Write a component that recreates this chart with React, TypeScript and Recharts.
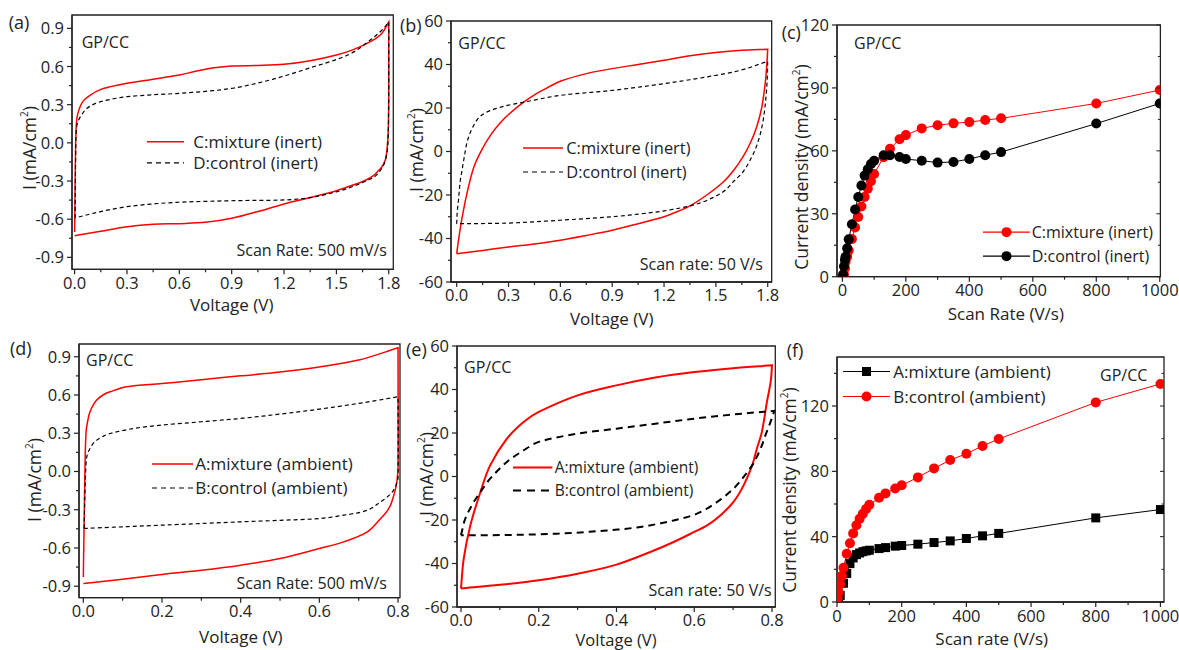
import React from "react"
import { LineChart, Line, XAxis, YAxis, ReferenceArea, Legend } from "recharts"

// Six-panel CV / scan-rate figure (GP/CC electrodes)

type Pt = [number, number]

const FONT = "'Open Sans', sans-serif"
const INK = "#222"
const RED = "#ff0000"
const BLACK = "#000000"

// ---- (a) inert, 500 mV/s  [voltage, current]  (a repeated point marks a sharp corner)
const aMixture: Pt[] = [
  [0.0, -0.70], [0.003, -0.3], [0.006, 0.0], [0.01, 0.15], [0.015, 0.21], [0.03, 0.28], [0.05, 0.33],
  [0.09, 0.376], [0.15, 0.42], [0.2, 0.44], [0.3, 0.468], [0.45, 0.5], [0.6, 0.533], [0.7, 0.565],
  [0.8, 0.59], [0.9, 0.604], [1.05, 0.608], [1.2, 0.617], [1.35, 0.645], [1.5, 0.69], [1.6, 0.735],
  [1.7, 0.8], [1.76, 0.86], [1.8, 0.95], [1.8, 0.95],
  [1.8, 0.4], [1.797, 0.1], [1.79, -0.05], [1.78, -0.135], [1.76, -0.19], [1.74, -0.22], [1.71, -0.26],
  [1.67, -0.292], [1.6, -0.33], [1.5, -0.376], [1.35, -0.43], [1.2, -0.48], [1.05, -0.54], [0.9, -0.593],
  [0.75, -0.625], [0.6, -0.635], [0.45, -0.64], [0.3, -0.66], [0.15, -0.695], [0.0, -0.73],
]
const aControl: Pt[] = [
  [0.003, -0.59], [0.005, -0.2], [0.008, 0.05], [0.012, 0.13], [0.02, 0.17], [0.04, 0.22], [0.07, 0.27],
  [0.12, 0.31], [0.2, 0.34], [0.3, 0.363], [0.45, 0.378], [0.6, 0.389], [0.75, 0.405], [0.9, 0.428],
  [1.05, 0.47], [1.2, 0.525], [1.35, 0.59], [1.5, 0.655], [1.6, 0.715], [1.7, 0.815], [1.76, 0.885],
  [1.8, 0.95], [1.8, 0.95],
  [1.8, 0.4], [1.797, 0.05], [1.79, -0.08], [1.775, -0.16], [1.75, -0.22], [1.72, -0.265], [1.67, -0.3],
  [1.6, -0.34], [1.5, -0.385], [1.35, -0.43], [1.2, -0.449], [1.05, -0.452], [0.9, -0.455], [0.75, -0.46],
  [0.6, -0.467], [0.45, -0.48], [0.3, -0.502], [0.15, -0.54], [0.003, -0.59],
]

// ---- (b) inert, 50 V/s
const bMixture: Pt[] = [
  [0.0, -47], [0.01, -41], [0.03, -31], [0.06, -19], [0.1, -7], [0.15, 1.5], [0.2, 8], [0.25, 13],
  [0.3, 17], [0.376, 22], [0.45, 26], [0.5, 28.3], [0.6, 32.3], [0.75, 35.8], [0.9, 38.1], [1.05, 40],
  [1.2, 42], [1.35, 44], [1.5, 45.5], [1.65, 46.5], [1.8, 47], [1.8, 47],
  [1.795, 40], [1.785, 31], [1.765, 20], [1.736, 11.3], [1.7, 4], [1.66, -2], [1.6, -9], [1.543, -14],
  [1.447, -20], [1.35, -25], [1.25, -28.5], [1.2, -30], [1.05, -33.2], [0.9, -36.2], [0.75, -38.6],
  [0.6, -40.8], [0.45, -42.5], [0.3, -43.9], [0.15, -45.5], [0.0, -47],
]
const bControl: Pt[] = [
  [0.0, -33.2], [0.003, -28], [0.01, -22.5], [0.02, -14], [0.03, -9], [0.045, -2], [0.058, 3.6], [0.08, 9],
  [0.116, 14.3], [0.15, 17], [0.2, 19], [0.3, 21.3], [0.376, 22.5], [0.6, 25.8], [0.9, 28.1], [1.2, 31.2],
  [1.5, 35], [1.65, 37.5], [1.8, 41.5], [1.8, 41.5],
  [1.797, 33], [1.79, 25], [1.775, 15], [1.75, 6], [1.717, -1], [1.66, -9], [1.6, -14], [1.543, -18.5],
  [1.447, -22.5], [1.35, -25], [1.2, -27.3], [1.05, -28.8], [0.9, -30], [0.6, -31.6], [0.3, -32.9], [0.0, -33.2],
]

// ---- (c) inert, current density vs scan rate  [V/s, mA/cm2]
const cMixture: Pt[] = [
  [5, 1], [8, 4], [10, 7], [15, 9.5], [20, 12.5], [30, 18], [40, 23.5], [50, 28.5], [60, 33.5], [70, 38],
  [80, 42], [90, 45.5], [100, 49], [130, 57], [150, 61], [180, 65.5], [200, 67.5], [250, 70.7], [300, 72.2],
  [350, 73.1], [400, 73.7], [450, 74.7], [500, 75.5], [800, 82.6], [1000, 89],
]
const cControl: Pt[] = [
  [2, 1], [5, 5], [8, 8], [10, 9.5], [15, 13.5], [20, 17.8], [30, 25], [40, 32], [50, 38], [60, 43.5],
  [70, 48.2], [80, 51.2], [90, 53.7], [100, 55.3], [130, 57.9], [150, 57.9], [180, 57.1], [200, 56.1],
  [250, 55.3], [300, 54.4], [350, 54.7], [400, 56.1], [450, 57.9], [500, 59.4], [800, 73], [1000, 82.6],
]

// ---- (d) ambient, 500 mV/s
const dMixture: Pt[] = [
  [0.0, -0.827], [0.002, -0.4], [0.004, 0.0], [0.007, 0.31], [0.012, 0.41], [0.017, 0.468], [0.025, 0.52],
  [0.034, 0.56], [0.05, 0.6], [0.068, 0.625], [0.11, 0.665], [0.2, 0.69], [0.3, 0.72], [0.4, 0.75],
  [0.5, 0.78], [0.6, 0.82], [0.7, 0.874], [0.8, 0.97], [0.8, 0.97],
  [0.8, 0.024], [0.797, -0.08], [0.794, -0.133], [0.788, -0.2], [0.781, -0.264], [0.77, -0.32],
  [0.756, -0.369], [0.722, -0.474], [0.662, -0.552], [0.6, -0.604], [0.5, -0.683], [0.4, -0.735],
  [0.3, -0.775], [0.2, -0.808], [0.1, -0.845], [0.0, -0.879],
]
const dControl: Pt[] = [
  [0.002, -0.447], [0.004, -0.2], [0.006, 0.0], [0.008, 0.1], [0.012, 0.15], [0.017, 0.18], [0.025, 0.22],
  [0.034, 0.246], [0.05, 0.275], [0.068, 0.298], [0.127, 0.337], [0.2, 0.364], [0.3, 0.39], [0.4, 0.416],
  [0.5, 0.45], [0.6, 0.489], [0.7, 0.534], [0.8, 0.586], [0.8, 0.586],
  [0.8, -0.05], [0.797, -0.09], [0.79, -0.14], [0.78, -0.18], [0.756, -0.238], [0.722, -0.304],
  [0.662, -0.343], [0.6, -0.369], [0.5, -0.383], [0.4, -0.395], [0.3, -0.408], [0.2, -0.421], [0.1, -0.434],
  [0.002, -0.447],
]

// ---- (e) ambient, 50 V/s
const eMixture: Pt[] = [
  [0.0, -51.5], [0.007, -37.8], [0.024, -22.5], [0.05, -7.1], [0.075, 5.1], [0.118, 17.4], [0.161, 25.1],
  [0.2, 29.7], [0.3, 37.3], [0.4, 41.9], [0.5, 45.5], [0.6, 48], [0.7, 49.8], [0.8, 51.1], [0.8, 51.1],
  [0.797, 44], [0.787, 34.3], [0.774, 20.5], [0.761, 12.8], [0.749, 5.1], [0.727, -4.1], [0.701, -11.7],
  [0.667, -17.9], [0.633, -22.5], [0.6, -25.5], [0.547, -30.1], [0.487, -34.7], [0.4, -40.5], [0.3, -44.7],
  [0.2, -47.7], [0.1, -49.8], [0.0, -51.5],
]
const eControl: Pt[] = [
  [0.0, -27], [0.011, -19.4], [0.033, -11.7], [0.05, -7.1], [0.075, -1], [0.118, 6.7], [0.161, 12],
  [0.2, 15.9], [0.3, 19.7], [0.4, 22], [0.5, 24.3], [0.6, 26.6], [0.7, 28.5], [0.806, 30.2], [0.806, 30.2],
  [0.796, 25], [0.783, 18.9], [0.774, 14.3], [0.761, 9], [0.749, 5.1], [0.727, -0.2], [0.701, -5.6],
  [0.659, -11.7], [0.607, -17.1], [0.547, -20.2], [0.461, -23.2], [0.376, -24.8], [0.247, -26.3],
  [0.075, -27], [0.0, -27],
]

// ---- (f) ambient, current density vs scan rate
const fMixture: Pt[] = [
  [5, 0.5], [10, 4], [20, 11.5], [30, 17.5], [40, 23.5], [50, 27], [60, 29], [70, 30], [80, 30.8],
  [90, 31.3], [100, 31.7], [130, 32.7], [150, 33.3], [180, 34.2], [200, 34.6], [250, 35.4], [300, 36.4],
  [350, 37.4], [400, 38.9], [450, 40.5], [500, 42], [800, 51.5], [1000, 56.6],
]
const fControl: Pt[] = [
  [2, 2], [5, 6], [10, 11], [15, 16], [20, 21], [30, 29.5], [40, 36], [50, 42], [60, 47], [70, 51],
  [80, 54], [90, 57], [100, 59.5], [130, 63.8], [150, 66.5], [180, 69.5], [200, 71.5], [250, 76.3],
  [300, 81.8], [350, 86.9], [400, 90.8], [450, 95.5], [500, 99.8], [800, 122.2], [1000, 133.5],
]

// ---- tick values
const vTicks18 = [0, 0.3, 0.6, 0.9, 1.2, 1.5, 1.8]
const vMinor18 = [0.15, 0.45, 0.75, 1.05, 1.35, 1.65]
const vTicks08 = [0, 0.2, 0.4, 0.6, 0.8]
const vMinor08 = [0.1, 0.3, 0.5, 0.7]
const iTicksSmall = [-0.9, -0.6, -0.3, 0, 0.3, 0.6, 0.9]
const iMinorSmall = [-0.75, -0.45, -0.15, 0.15, 0.45, 0.75]
const iTicksBig = [-60, -40, -20, 0, 20, 40, 60]
const iMinorBig = [-50, -30, -10, 10, 30, 50]
const rateTicks = [0, 200, 400, 600, 800, 1000]
const rateMinor = [100, 300, 500, 700, 900]
const jTicksInert = [0, 30, 60, 90, 120]
const jMinorInert = [15, 45, 75, 105]
const jTicksAmb = [0, 40, 80, 120]
const jMinorAmb = [20, 60, 100, 140]

const fmt1 = (v: number) => v.toFixed(1)
const fmt0 = (v: number) => String(Math.round(v))

interface Series {
  name: string
  pts: Pt[]
  color: string
  width: number
  dash?: string
  legendDash?: string
  marker?: "circle" | "square"
}

interface Panel {
  tag: string
  box: { l: number; t: number; r: number; b: number }
  xDomain: [number, number]
  yDomain: [number, number]
  xMajor: number[]
  xMinor: number[]
  yMajor: number[]
  yMinor: number[]
  xFmt: (v: number) => string
  yFmt: (v: number) => string
  frameTicks: boolean
  smooth: boolean
  series: Series[]
  legend: { x: number; y: number; len: number; gap: number; rowH: number; size: number }
  tagPos: [number, number]
  note: [number, number]
  rate?: { text: string; x: number; y: number }
  xTitle: { text: string; x: number; y: number; size: number }
  yTitle: { text: string; x: number; y: number }
}

const panels: Panel[] = [
  {
    tag: "(a)",
    box: { l: 71.7, t: 15, r: 393, b: 269.3 },
    xDomain: [-0.015, 1.826], yDomain: [-0.994, 1.005],
    xMajor: vTicks18, xMinor: vMinor18, yMajor: iTicksSmall, yMinor: iMinorSmall,
    xFmt: fmt1, yFmt: fmt1, frameTicks: false, smooth: true,
    series: [
      { name: "C:mixture (inert)", pts: aMixture, color: RED, width: 1.5 },
      { name: "D:control (inert)", pts: aControl, color: BLACK, width: 1.2, dash: "4 3", legendDash: "5 4" },
    ],
    legend: { x: 147.3, y: 141.7, len: 37, gap: 9, rowH: 21.6, size: 17 },
    tagPos: [8.7, 21.7], note: [81.7, 41.7],
    rate: { text: "Scan Rate: 500 mV/s", x: 387, y: 250 },
    xTitle: { text: "Voltage (V)", x: 231.7, y: 305, size: 17 },
    yTitle: { text: "I (mA/cm", x: 29, y: 148 },
  },
  {
    tag: "(b)",
    box: { l: 451, t: 20.7, r: 771.7, b: 281.7 },
    xDomain: [-0.033, 1.823], yDomain: [-60, 60],
    xMajor: vTicks18, xMinor: vMinor18, yMajor: iTicksBig, yMinor: iMinorBig,
    xFmt: fmt1, yFmt: fmt0, frameTicks: false, smooth: true,
    series: [
      { name: "C:mixture (inert)", pts: bMixture, color: RED, width: 1.5 },
      { name: "D:control (inert)", pts: bControl, color: BLACK, width: 1.2, dash: "4 3", legendDash: "5 4" },
    ],
    legend: { x: 523.3, y: 147.7, len: 40, gap: 3, rowH: 24, size: 16.4 },
    tagPos: [400, 25], note: [458.3, 43.3],
    rate: { text: "Scan rate: 50 V/s", x: 763, y: 264 },
    xTitle: { text: "Voltage (V)", x: 611.7, y: 318.5, size: 17 },
    yTitle: { text: "I (mA/cm", x: 415.5, y: 150 },
  },
  {
    tag: "(c)",
    box: { l: 837.3, t: 25, r: 1160.7, b: 276.7 },
    xDomain: [-17, 1002], yDomain: [0, 120],
    xMajor: rateTicks, xMinor: rateMinor, yMajor: jTicksInert, yMinor: jMinorInert,
    xFmt: fmt0, yFmt: fmt0, frameTicks: true, smooth: false,
    series: [
      { name: "C:mixture (inert)", pts: cMixture, color: RED, width: 1, marker: "circle" },
      { name: "D:control (inert)", pts: cControl, color: BLACK, width: 1, marker: "circle" },
    ],
    legend: { x: 982.7, y: 231.7, len: 47, gap: 2, rowH: 24.3, size: 16 },
    tagPos: [781.7, 31.7], note: [854, 43.3],
    xTitle: { text: "Scan Rate (V/s)", x: 1005.8, y: 313.5, size: 17 },
    yTitle: { text: "Current density (mA/cm", x: 800.5, y: 167 },
  },
  {
    tag: "(d)",
    box: { l: 79, t: 344, r: 400, b: 597.7 },
    xDomain: [-0.011, 0.805], yDomain: [-0.99, 1.0],
    xMajor: vTicks08, xMinor: vMinor08, yMajor: iTicksSmall, yMinor: iMinorSmall,
    xFmt: fmt1, yFmt: fmt1, frameTicks: false, smooth: true,
    series: [
      { name: "A:mixture (ambient)", pts: dMixture, color: RED, width: 1.5 },
      { name: "B:control (ambient)", pts: dControl, color: BLACK, width: 1.2, dash: "4 3", legendDash: "5 4" },
    ],
    legend: { x: 151.7, y: 464.3, len: 41.6, gap: 2, rowH: 24, size: 17 },
    tagPos: [10, 348.3], note: [86, 360],
    rate: { text: "Scan Rate: 500 mV/s", x: 387, y: 583.3 },
    xTitle: { text: "Voltage (V)", x: 240.8, y: 637, size: 17 },
    yTitle: { text: "I (mA/cm", x: 34, y: 480 },
  },
  {
    tag: "(e)",
    box: { l: 456.7, t: 345.7, r: 775, b: 606.7 },
    xDomain: [-0.0103, 0.8085], yDomain: [-60, 60],
    xMajor: vTicks08, xMinor: vMinor08, yMajor: iTicksBig, yMinor: iMinorBig,
    xFmt: fmt1, yFmt: fmt0, frameTicks: false, smooth: true,
    series: [
      { name: "A:mixture (ambient)", pts: eMixture, color: RED, width: 2 },
      { name: "B:control (ambient)", pts: eControl, color: BLACK, width: 2, dash: "7 5", legendDash: "8 6" },
    ],
    legend: { x: 513.3, y: 467.7, len: 39.4, gap: 2, rowH: 23, size: 15.5 },
    tagPos: [406, 349], note: [464, 366.7],
    rate: { text: "Scan rate: 50 V/s", x: 771.7, y: 590 },
    xTitle: { text: "Voltage (V)", x: 616, y: 640.3, size: 16.5 },
    yTitle: { text: "I (mA/cm", x: 426, y: 474 },
  },
  {
    tag: "(f)",
    box: { l: 837.3, t: 356.7, r: 1164.3, b: 601.7 },
    xDomain: [0, 1011], yDomain: [0, 150],
    xMajor: rateTicks, xMinor: rateMinor, yMajor: jTicksAmb, yMinor: jMinorAmb,
    xFmt: fmt0, yFmt: fmt0, frameTicks: true, smooth: false,
    series: [
      { name: "A:mixture (ambient)", pts: fMixture, color: BLACK, width: 1, marker: "square" },
      { name: "B:control (ambient)", pts: fControl, color: RED, width: 1, marker: "circle" },
    ],
    legend: { x: 843.3, y: 371.7, len: 47, gap: 3, rowH: 25, size: 17 },
    tagPos: [786.7, 350], note: [1100, 375],
    xTitle: { text: "Scan rate (V/s)", x: 991.7, y: 638.5, size: 17 },
    yTitle: { text: "Current density (mA/cm", x: 789, y: 490 },
  },
]

const AX_W = 70
const AX_H = 50
const PAD_T = 12
const PAD_R = 30
const TICK_FS = 16.5

// Smooth pass-through curve for the CV loops (chord-scaled Hermite).
// Works in pixel space so closed loops keep their order; a repeated point gives a sharp corner.
function loopCurve(context: any) {
  let pts: Pt[] = []
  const same = (p: Pt, q: Pt) => Math.abs(p[0] - q[0]) < 1e-6 && Math.abs(p[1] - q[1]) < 1e-6
  return {
    areaStart() {},
    areaEnd() {},
    lineStart() {
      pts = []
    },
    point(x: number, y: number) {
      pts.push([+x, +y])
    },
    lineEnd() {
      const n = pts.length
      if (!n) return
      const dir = (i: number): Pt => {
        const p = pts[i]
        let a = pts[Math.max(i - 1, 0)]
        let c = pts[Math.min(i + 1, n - 1)]
        if (same(a, p)) a = p
        if (same(c, p)) c = p
        const dx = c[0] - a[0]
        const dy = c[1] - a[1]
        const m = Math.hypot(dx, dy)
        return m > 0 ? [dx / m, dy / m] : [0, 0]
      }
      context.moveTo(pts[0][0], pts[0][1])
      for (let i = 0; i < n - 1; i++) {
        const p = pts[i]
        const q = pts[i + 1]
        const L = Math.hypot(q[0] - p[0], q[1] - p[1])
        if (L < 1e-6) continue
        const d0 = dir(i)
        const d1 = dir(i + 1)
        context.bezierCurveTo(
          p[0] + (d0[0] * L) / 3, p[1] + (d0[1] * L) / 3,
          q[0] - (d1[0] * L) / 3, q[1] - (d1[1] * L) / 3,
          q[0], q[1],
        )
      }
    },
  }
}

type Side = "bottom" | "left" | "top" | "right"

function makeTick(side: Side, major: number[], fmt: (v: number) => string, withText: boolean) {
  const isMajor = (v: number) => major.some((m) => Math.abs(m - v) < 1e-6)
  return (props: any) => {
    const { x, y, payload, index } = props
    const v = payload.value as number
    const big = isMajor(v)
    const len = big ? 5 : 3
    const k = `${side}-${index}`
    if (side === "bottom") {
      return (
        <g key={k}>
          <line x1={x} x2={x} y1={y} y2={y + len} stroke={INK} strokeWidth={1.2} />
          {withText && big && (
            <text x={x} y={y + 19.5} textAnchor="middle" fontSize={TICK_FS} fontFamily={FONT} fill={INK}>
              {fmt(v)}
            </text>
          )}
        </g>
      )
    }
    if (side === "left") {
      return (
        <g key={k}>
          <line x1={x} x2={x - len} y1={y} y2={y} stroke={INK} strokeWidth={1.2} />
          {withText && big && (
            <text x={x - 8} y={y + 6} textAnchor="end" fontSize={TICK_FS} fontFamily={FONT} fill={INK}>
              {fmt(v)}
            </text>
          )}
        </g>
      )
    }
    if (side === "top") {
      return <line key={k} x1={x} x2={x} y1={y} y2={y + (big ? 4 : 2.5)} stroke={INK} strokeWidth={1} />
    }
    return <line key={k} x1={x} x2={x - (big ? 4 : 2.5)} y1={y} y2={y} stroke={INK} strokeWidth={1} />
  }
}

function dotFor(s: Series) {
  if (!s.marker) return false
  return (p: any) =>
    s.marker === "square" ? (
      <rect key={`m${p.index}`} x={p.cx - 4.5} y={p.cy - 4.5} width={9} height={9} fill={s.color} />
    ) : (
      <circle key={`m${p.index}`} cx={p.cx} cy={p.cy} r={5} fill={s.color} />
    )
}

function LegendBox({ p }: { p: Panel }) {
  const lg = p.legend
  return (
    <div style={{ fontFamily: FONT, fontSize: lg.size, color: INK }}>
      {p.series.map((s) => (
        <div key={s.name} style={{ display: "flex", alignItems: "center", height: lg.rowH }}>
          <svg width={lg.len} height={lg.rowH} style={{ display: "block" }}>
            <line
              x1={0} x2={lg.len} y1={lg.rowH / 2} y2={lg.rowH / 2}
              stroke={s.color} strokeWidth={s.width < 1.5 ? 1.2 : s.width} strokeDasharray={s.legendDash}
            />
            {s.marker === "circle" && <circle cx={lg.len / 2} cy={lg.rowH / 2} r={5} fill={s.color} />}
            {s.marker === "square" && (
              <rect x={lg.len / 2 - 4.5} y={lg.rowH / 2 - 4.5} width={9} height={9} fill={s.color} />
            )}
          </svg>
          <span style={{ marginLeft: lg.gap, whiteSpace: "nowrap", lineHeight: `${lg.rowH}px` }}>{s.name}</span>
        </div>
      ))}
    </div>
  )
}

function PanelChart({ p }: { p: Panel }) {
  const { l, t, r, b } = p.box
  const left = l - AX_W
  const top = t - PAD_T
  const width = r - l + AX_W + PAD_R
  const height = b - t + PAD_T + AX_H
  const xTicks = [...p.xMajor, ...p.xMinor].sort((m, n) => m - n)
  const yTicks = [...p.yMajor, ...p.yMinor].sort((m, n) => m - n)
  return (
    <div style={{ position: "absolute", left, top, width, height }}>
      <LineChart width={width} height={height} margin={{ top: PAD_T, right: PAD_R, bottom: 0, left: 0 }}>
        <XAxis
          dataKey="x" type="number" domain={p.xDomain} allowDataOverflow ticks={xTicks} interval={0}
          height={AX_H} tickSize={0} tickMargin={0} tickLine={false}
          axisLine={{ stroke: INK, strokeWidth: 1.3 }} tick={makeTick("bottom", p.xMajor, p.xFmt, true)}
        />
        <YAxis
          type="number" domain={p.yDomain} allowDataOverflow ticks={yTicks} interval={0}
          width={AX_W} tickSize={0} tickMargin={0} tickLine={false}
          axisLine={{ stroke: INK, strokeWidth: 1.3 }} tick={makeTick("left", p.yMajor, p.yFmt, true)}
        />
        {p.frameTicks && (
          <XAxis
            xAxisId="top" orientation="top" mirror type="number" domain={p.xDomain} allowDataOverflow
            ticks={xTicks} interval={0} tickSize={0} tickMargin={0} tickLine={false} axisLine={false}
            tick={makeTick("top", p.xMajor, p.xFmt, false)}
          />
        )}
        {p.frameTicks && (
          <YAxis
            yAxisId="right" orientation="right" mirror type="number" domain={p.yDomain} allowDataOverflow
            ticks={yTicks} interval={0} tickSize={0} tickMargin={0} tickLine={false} axisLine={false}
            tick={makeTick("right", p.yMajor, p.yFmt, false)}
          />
        )}
        <ReferenceArea
          x1={p.xDomain[0]} x2={p.xDomain[1]} y1={p.yDomain[0]} y2={p.yDomain[1]}
          fill="none" fillOpacity={0} stroke={INK} strokeWidth={1.3} ifOverflow="extendDomain"
        />
        {p.series.map((s) => (
          <Line
            key={s.name}
            data={s.pts.map(([x, y]) => ({ x, y }))}
            dataKey="y"
            name={s.name}
            type={p.smooth ? (loopCurve as any) : "linear"}
            stroke={s.color}
            strokeWidth={s.width}
            strokeDasharray={s.dash}
            dot={dotFor(s)}
            activeDot={false}
            isAnimationActive={false}
          />
        ))}
        <Legend
          layout="vertical" align="center" verticalAlign="middle"
          wrapperStyle={{
            left: p.legend.x - left,
            top: p.legend.y - top - p.legend.rowH / 2,
            width: "auto", height: "auto", right: "auto", bottom: "auto",
          }}
          content={() => <LegendBox p={p} />}
        />
      </LineChart>
    </div>
  )
}

const txtBase: React.CSSProperties = {
  position: "absolute",
  fontFamily: FONT,
  color: INK,
  whiteSpace: "nowrap",
  lineHeight: 1.05,
}

function Overlay({ p }: { p: Panel }) {
  return (
    <>
      <div style={{ ...txtBase, left: p.tagPos[0], top: p.tagPos[1], fontSize: 18, transform: "translateY(-50%)" }}>
        {p.tag}
      </div>
      <div style={{ ...txtBase, left: p.note[0], top: p.note[1], fontSize: 16, transform: "translateY(-50%)" }}>
        GP/CC
      </div>
      {p.rate && (
        <div style={{ ...txtBase, left: p.rate.x, top: p.rate.y, fontSize: 16, transform: "translate(-100%,-50%)" }}>
          {p.rate.text}
        </div>
      )}
      <div
        style={{
          ...txtBase, left: p.xTitle.x, top: p.xTitle.y, fontSize: p.xTitle.size,
          transform: "translate(-50%,-50%)",
        }}
      >
        {p.xTitle.text}
      </div>
      <div
        style={{
          ...txtBase, left: p.yTitle.x, top: p.yTitle.y, fontSize: 17.5,
          transform: "translate(-50%,-50%) rotate(-90deg)",
        }}
      >
        {p.yTitle.text}
        <span style={{ fontSize: 10, position: "relative", top: -8 }}>2</span>)
      </div>
    </>
  )
}

export default function App() {
  return (
    <div
      style={{
        position: "absolute", left: 0, top: 0, width: 1179, height: 650,
        overflow: "hidden", background: "#ffffff", fontFamily: FONT,
      }}
    >
      {panels.map((p) => (
        <PanelChart key={p.tag} p={p} />
      ))}
      {panels.map((p) => (
        <Overlay key={`o${p.tag}`} p={p} />
      ))}
    </div>
  )
}
